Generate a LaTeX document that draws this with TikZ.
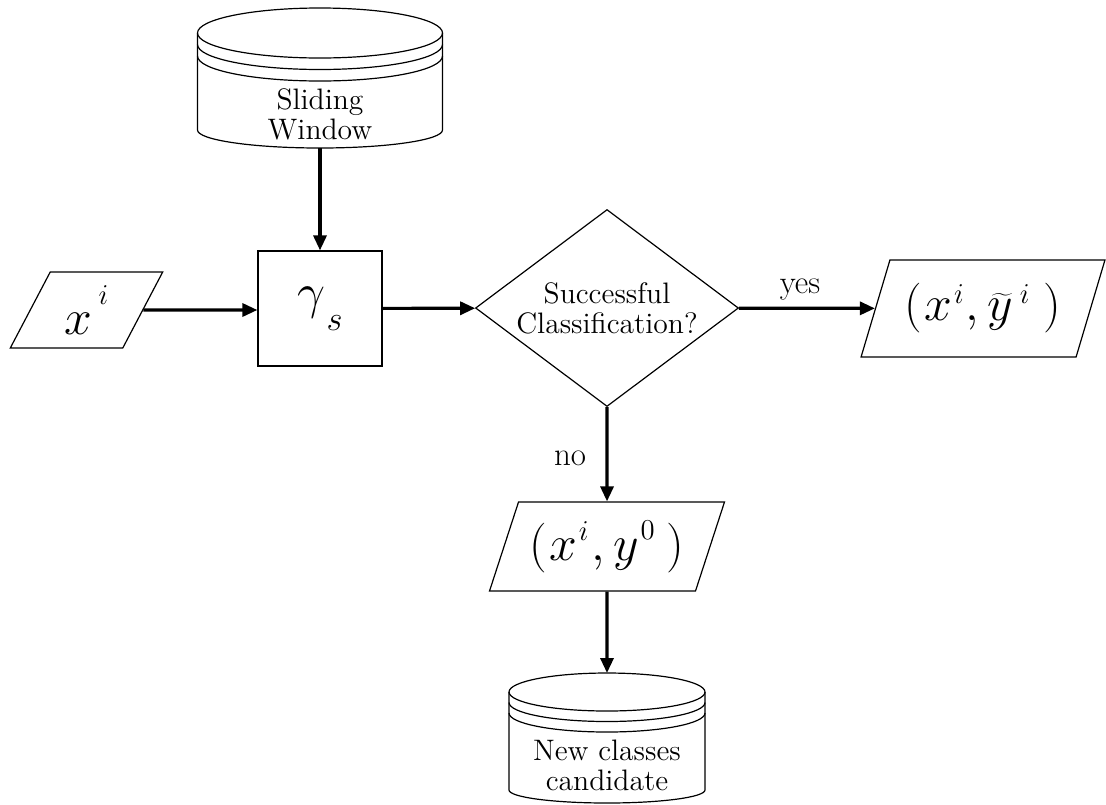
\documentclass[tikz,border=0pt]{standalone}
\usetikzlibrary{shapes.geometric,arrows.meta}
\tikzset{
  shp/.style={draw, line width=0.6pt, inner sep=0pt},
  para/.style={shp, trapezium, trapezium stretches=true, trapezium left angle=64, trapezium right angle=116},
  arr/.style={line width=1.6pt, -{Triangle[length=7.5pt,width=6.5pt]}},
  lbl/.style={font=\fontsize{14.8pt}{15pt}\selectfont, align=center, inner sep=0pt},
  yn/.style={font=\fontsize{16.5pt}{16.5pt}\selectfont, inner sep=0pt, anchor=base},
  cyl/.style={line width=0.6pt},
}
\newcommand\isup[3]{\raisebox{#1}{\fontsize{#2}{#2}\selectfont #3}}
\begin{document}
\begin{tikzpicture}[x=0.5pt,y=-0.5pt]
\useasboundingbox (0,0) rectangle (1106,804);
% top cylinder
\draw[cyl] (320,33) ellipse [x radius=122.5, y radius=25];
\draw[cyl] (197.5,44.5) arc[start angle=180,end angle=0,x radius=122.5,y radius=25];
\draw[cyl] (197.5,56) arc[start angle=180,end angle=0,x radius=122.5,y radius=25];
\draw[cyl] (197.5,33) -- (197.5,130) arc[start angle=180,end angle=0,x radius=122.5,y radius=18] -- (442.5,33);
\node[lbl, anchor=south] (sw) at (320,148) {Sliding\\Window\rule[-4pt]{0pt}{4pt}};
% bottom cylinder
\draw[cyl] (607,692) ellipse [x radius=98, y radius=19];
\draw[cyl] (509,702.5) arc[start angle=180,end angle=0,x radius=98,y radius=19];
\draw[cyl] (509,713) arc[start angle=180,end angle=0,x radius=98,y radius=19];
\draw[cyl] (509,692) -- (509,790) arc[start angle=180,end angle=0,x radius=98,y radius=13] -- (705,692);
\node[lbl, anchor=north] (ncc) at (607,673) {\rule{0pt}{43.5pt}New classes\\candidate};
% input
\node[para, minimum width=76.5pt, minimum height=38pt] (xi) at (86.5,310)
  {\fontsize{36pt}{36pt}\selectfont$x$\kern3pt\isup{15pt}{14pt}{$i$}};
% gamma box
\node[shp, minimum width=62pt, minimum height=57.5pt] (gamma) at (320,308.5)
  {\fontsize{50pt}{50pt}\selectfont$\gamma$\kern0.5pt\isup{-11pt}{18pt}{$s$}};
% decision
\node[shp, diamond, aspect=1.335, minimum width=131.5pt, minimum height=98.5pt, lbl] (dec) at (607,308)
  {Successful\\Classification?};
% yes output
\node[para, minimum width=122pt, minimum height=48.5pt] (res) at (983,308.5)
  {\fontsize{31pt}{31pt}\selectfont$($\kern1pt$x$\kern1pt\isup{8.5pt}{14pt}{$i$}\kern1pt$,$\kern4pt$\widetilde{y}$\kern3.5pt\isup{8.5pt}{14pt}{$i$}\kern7pt$)$};
% no output
\node[para, minimum width=117.5pt, minimum height=44.5pt] (out0) at (607,546.5)
  {\fontsize{29pt}{29pt}\selectfont$($\kern1pt$x$\kern1pt\isup{10pt}{14pt}{$i$}\kern1.5pt$,$\kern4pt$y$\kern1pt\isup{10.5pt}{14pt}{$0$}\kern6pt$)$};
% labels
\node[yn] (yes) at (800,293) {yes};
\node[yn] (no) at (570,465) {no};
% connectors
\draw[arr] (sw.south) -- (gamma.north);
\draw[arr] (xi) -- (xi -| gamma.west);
\draw[arr] (gamma) -- (dec);
\draw[arr] (dec) -- (res);
\draw[arr] (dec) -- (out0);
\draw[arr] (out0) -- (ncc.north);
\end{tikzpicture}
\end{document}
